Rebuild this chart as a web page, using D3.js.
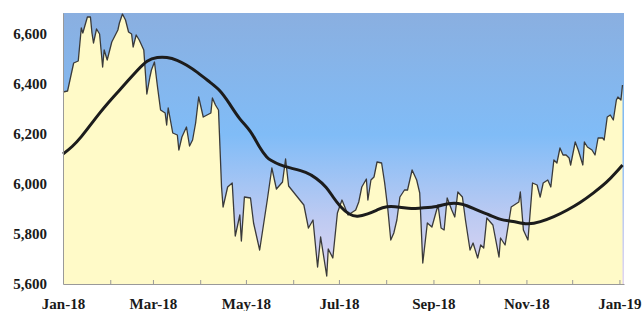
<!DOCTYPE html>
<html>
<head>
<meta charset="utf-8">
<script src="https://cdn.jsdelivr.net/npm/d3@7"></script>
<style>
  body { margin: 0; background: #fff; }
  svg text { font-family: "Liberation Serif", serif; font-weight: bold; fill: #1a1a1a; }
</style>
</head>
<body>
<svg id="chart"></svg>
<script>
var width = 642,
	height = 311;
var margin = ({top: 13, right: 18, bottom: 27, left: 63});

// daily index
var priceDates = ["2018-01-01","2018-01-04","2018-01-08","2018-01-11","2018-01-13","2018-01-14","2018-01-17","2018-01-19","2018-01-20","2018-01-21",
	"2018-01-23","2018-01-25","2018-01-27","2018-01-28","2018-01-30","2018-02-02","2018-02-06","2018-02-07","2018-02-09","2018-02-11",
	"2018-02-13","2018-02-15","2018-02-16","2018-02-18","2018-02-20","2018-02-23","2018-02-25","2018-02-27","2018-02-28","2018-03-02",
	"2018-03-04","2018-03-06","2018-03-09","2018-03-10","2018-03-11","2018-03-14","2018-03-17","2018-03-18","2018-03-20","2018-03-23",
	"2018-03-25","2018-03-27","2018-03-29","2018-03-31","2018-04-03","2018-04-08","2018-04-09","2018-04-11","2018-04-13","2018-04-15",
	"2018-04-16","2018-04-19","2018-04-22","2018-04-24","2018-04-27","2018-04-28","2018-04-30","2018-05-04","2018-05-06","2018-05-10",
	"2018-05-15","2018-05-18","2018-05-21","2018-05-25","2018-05-27","2018-05-29","2018-06-08","2018-06-11","2018-06-14","2018-06-17",
	"2018-06-19","2018-06-23","2018-06-24","2018-06-27","2018-06-30","2018-07-03","2018-07-07","2018-07-12","2018-07-14","2018-07-16",
	"2018-07-19","2018-07-20","2018-07-22","2018-07-24","2018-07-26","2018-07-29","2018-07-31","2018-08-02","2018-08-04","2018-08-06",
	"2018-08-08","2018-08-10","2018-08-13","2018-08-15","2018-08-18","2018-08-21","2018-08-23","2018-08-25","2018-08-28","2018-08-31",
	"2018-09-04","2018-09-06","2018-09-08","2018-09-10","2018-09-13","2018-09-15","2018-09-17","2018-09-20","2018-09-22","2018-09-25",
	"2018-09-27","2018-09-30","2018-10-02","2018-10-04","2018-10-06","2018-10-10","2018-10-14","2018-10-15","2018-10-18","2018-10-22",
	"2018-10-27","2018-10-28","2018-10-30","2018-11-02","2018-11-05","2018-11-08","2018-11-10","2018-11-12","2018-11-15","2018-11-17",
	"2018-11-19","2018-11-21","2018-11-23","2018-11-25","2018-11-27","2018-11-29","2018-11-30","2018-12-03","2018-12-05","2018-12-08",
	"2018-12-09","2018-12-11","2018-12-14","2018-12-16","2018-12-18","2018-12-21","2018-12-22","2018-12-24","2018-12-26","2018-12-28",
	"2018-12-30","2018-12-31","2019-01-02","2019-01-03"];
var priceValues = [6368,6372,6484,6492,6624,6604,6668,6668,6604,6564,
	6620,6600,6468,6536,6496,6568,6616,6644,6680,6656,
	6608,6600,6548,6596,6576,6536,6360,6428,6456,6488,
	6388,6296,6284,6236,6304,6204,6196,6136,6188,6228,
	6152,6176,6244,6348,6268,6284,6344,6316,6296,5988,
	5908,5988,6004,5792,5876,5772,5948,5944,5844,5736,
	5936,6064,5980,6008,6100,5992,5916,5824,5856,5668,
	5788,5632,5740,5704,5884,5936,5876,5896,5928,5988,
	6020,5936,6016,6028,6088,6084,6004,5904,5776,5804,
	5856,5948,5976,5976,6056,6016,5964,5684,5844,5828,
	5916,5824,5816,5944,5896,5868,5968,5948,5856,5736,
	5764,5704,5756,5744,5864,5836,5708,5784,5756,5908,
	5928,5968,5816,5776,6004,5996,5948,6004,6016,5988,
	6096,6084,6144,6116,6116,6104,6076,6168,6136,6076,
	6168,6148,6136,6116,6184,6184,6176,6268,6276,6256,
	6336,6348,6336,6396];

// moving average
var maDates = ["2018-01-01","2018-01-07","2018-01-13","2018-01-20","2018-01-25","2018-01-31","2018-02-06","2018-02-13","2018-02-19","2018-02-25",
	"2018-03-04","2018-03-10","2018-03-17","2018-03-23","2018-03-30","2018-04-08","2018-04-14","2018-04-20","2018-04-27","2018-05-04",
	"2018-05-10","2018-05-15","2018-05-17","2018-05-23","2018-05-30","2018-06-10","2018-06-16","2018-06-23","2018-06-27","2018-07-02",
	"2018-07-08","2018-07-13","2018-07-20","2018-07-26","2018-08-01","2018-08-10","2018-08-18","2018-08-23","2018-09-04","2018-09-10",
	"2018-09-20","2018-09-29","2018-10-08","2018-10-15","2018-10-23","2018-11-02","2018-11-10","2018-11-19","2018-11-28","2018-12-06",
	"2018-12-15","2018-12-24","2018-12-30","2019-01-03"];
var maValues = [6120,6148,6188,6244,6284,6328,6368,6416,6456,6496,
	6508,6508,6496,6476,6448,6404,6376,6324,6256,6216,
	6144,6104,6096,6076,6064,6048,6024,5988,5948,5908,
	5876,5868,5880,5896,5912,5908,5900,5904,5908,5924,
	5924,5896,5876,5856,5852,5836,5848,5868,5896,5924,
	5964,6008,6048,6076];

var yTicks = [5600, 5800, 6000, 6200, 6400, 6600];
var xDomain = ["2018-01-01", "2019-01-04"];

var parse = d3.timeParse("%Y-%m-%d");
var price = priceDates.map((d, i) => ({date: parse(d), value: priceValues[i]}));
var ma = maDates.map((d, i) => ({date: parse(d), value: maValues[i]}));

var x = d3.scaleTime()
	.domain(xDomain.map(parse))
	.range([margin.left, width - margin.right]);

var y = d3.scaleLinear()
	.domain([5600, 6684])
	.range([height - margin.bottom, margin.top]);

var svg = d3.select('#chart')
	.attr('width', width)
	.attr('height', height);

// background gradient of the plot area
var grad = svg.append('defs').append('linearGradient')
	.attr('id', 'bg')
	.attr('x1', 0).attr('y1', 0).attr('x2', 0).attr('y2', 1);
grad.selectAll('stop')
	.data([[0, '#8aafe0'], [0.45, '#80bcf7'], [0.75, '#bccaf2'], [1, '#e2d6f2']])
	.join('stop')
		.attr('offset', d => d[0])
		.attr('stop-color', d => d[1]);

svg.append('rect')
	.attr('x', margin.left)
	.attr('y', margin.top)
	.attr('width', width - margin.left - margin.right)
	.attr('height', height - margin.top - margin.bottom)
	.attr('fill', 'url(#bg)');

// filled index
var area = d3.area()
	.x(d => x(d.date))
	.y0(y(5600))
	.y1(d => y(d.value));
var line = d3.line()
	.x(d => x(d.date))
	.y(d => y(d.value));

svg.append('path')
	.attr('d', area(price))
	.attr('fill', '#fffac8');
svg.append('path')
	.attr('d', line(price))
	.attr('fill', 'none')
	.attr('stroke', '#3a3a3a')
	.attr('stroke-width', 1.3)
	.attr('stroke-linejoin', 'round');

// moving average
svg.append('path')
	.attr('d', line.curve(d3.curveBasis)(ma))
	.attr('fill', 'none')
	.attr('stroke', '#1c1c1c')
	.attr('stroke-width', 3);

// axes
var xAxis = g => g
	.attr('transform', 'translate(0,' + y(5600) + ')')
	.call(d3.axisBottom(x)
		.ticks(d3.timeMonth.every(1))
		.tickSizeInner(-4)
		.tickSizeOuter(0)
		.tickPadding(14)
		.tickFormat(d => d.getMonth() % 2 == 0 ? d3.timeFormat('%b-%y')(d) : ''))
	.call(g => g.select('.domain').attr('stroke', '#999'))
	.call(g => g.selectAll('.tick line').attr('stroke', '#999'))
	.call(g => g.selectAll('.tick text').attr('font-size', 15));

var yAxis = g => g
	.attr('transform', 'translate(' + margin.left + ',0)')
	.call(d3.axisLeft(y)
		.tickValues(yTicks)
		.tickSize(0)
		.tickPadding(16)
		.tickFormat(d3.format(',')))
	.call(g => g.select('.domain').attr('stroke', '#999'))
	.call(g => g.selectAll('.tick text').attr('font-size', 15));

svg.append('g').call(xAxis);
svg.append('g').call(yAxis);
</script>
</body>
</html>
